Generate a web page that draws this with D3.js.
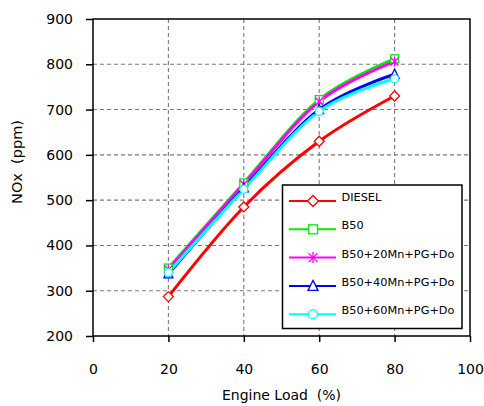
<!DOCTYPE html>
<html>
<head>
<meta charset="utf-8">
<script src="https://cdn.jsdelivr.net/npm/d3@7"></script>
<style>
  html, body { margin: 0; padding: 0; background: #fff; }
  svg { display: block; }
  text { font-family: "DejaVu Sans", Verdana, sans-serif; fill: #000; }
</style>
</head>
<body>
<svg id="chart" width="484" height="406"></svg>
<script>
// Engine load (%) at which NOx was measured
const loads = [20, 40, 60, 80];

// NOx emissions (ppm) per fuel blend
const dieselNOx = [287, 485, 630, 730];
const b50NOx = [350, 538, 722, 812];
const b50Mn20NOx = [347, 535, 718, 806];
const b50Mn40NOx = [337, 527, 700, 778];
const b50Mn60NOx = [340, 524, 696, 768];

const seriesNames = ["DIESEL", "B50", "B50+20Mn+PG+Do", "B50+40Mn+PG+Do", "B50+60Mn+PG+Do"];
const seriesValues = [dieselNOx, b50NOx, b50Mn20NOx, b50Mn40NOx, b50Mn60NOx];
const seriesColors = ["#ff0000", "#00ee00", "#ff00ff", "#0000ff", "#00ffff"];
const seriesMarkers = ["diamond", "square", "asterisk", "triangle", "circle"];

const xTicks = [0, 20, 40, 60, 80, 100];
const yTicks = [200, 300, 400, 500, 600, 700, 800, 900];

const svg = d3.select("#chart");
const plotLeft = 93, plotRight = 470, plotTop = 19, plotBottom = 336;

const x = d3.scaleLinear().domain([0, 100]).range([plotLeft, plotRight]);
const y = d3.scaleLinear().domain([200, 900]).range([plotBottom, plotTop]);

// dashed grid
const grid = svg.append("g").attr("stroke", "#7a7a7a").attr("stroke-width", 1.1)
  .attr("stroke-dasharray", "4,3");
grid.selectAll("line.v").data(xTicks.slice(1, -1)).join("line").attr("class", "v")
  .attr("x1", d => x(d)).attr("x2", d => x(d)).attr("y1", plotTop).attr("y2", plotBottom);
grid.selectAll("line.h").data(yTicks.slice(1, -1)).join("line").attr("class", "h")
  .attr("x1", plotLeft).attr("x2", plotRight).attr("y1", d => y(d)).attr("y2", d => y(d));

// axes
const xAxis = d3.axisBottom(x).tickValues(xTicks).tickSize(6).tickPadding(22);
const yAxis = d3.axisLeft(y).tickValues(yTicks).tickSize(7).tickPadding(13);

const gx = svg.append("g").attr("transform", `translate(0,${plotBottom})`).call(xAxis);
const gy = svg.append("g").attr("transform", `translate(${plotLeft},0)`).call(yAxis);
[gx, gy].forEach(g => {
  g.select(".domain").remove();
  g.selectAll(".tick line").attr("stroke", "#000").attr("stroke-width", 1.5);
  g.selectAll(".tick text").attr("font-size", 14).attr("font-family", "DejaVu Sans").attr("fill", "#000");
});

// plot frame
svg.append("rect").attr("x", plotLeft).attr("y", plotTop)
  .attr("width", plotRight - plotLeft).attr("height", plotBottom - plotTop)
  .attr("fill", "none").attr("stroke", "#000").attr("stroke-width", 1.5);

// axis titles
svg.append("text").attr("x", (plotLeft + plotRight) / 2).attr("y", 400)
  .attr("text-anchor", "middle").attr("font-size", 14)
  .text("Engine Load\u00a0\u00a0(%)");
svg.append("text")
  .attr("transform", "translate(22,162) rotate(-90)")
  .attr("text-anchor", "middle").attr("font-size", 14.5)
  .text("NOx\u00a0\u00a0(ppm)");

// marker shapes
function drawMarker(g, type, cx, cy, color, s) {
  const h = s / 2;
  if (type === "diamond") {
    g.append("path").attr("d", `M${cx},${cy - h - 1}L${cx + h + 1},${cy}L${cx},${cy + h + 1}L${cx - h - 1},${cy}Z`)
      .attr("fill", "#fff").attr("stroke", color).attr("stroke-width", 1.3);
  } else if (type === "square") {
    g.append("rect").attr("x", cx - h).attr("y", cy - h).attr("width", s).attr("height", s)
      .attr("fill", "#fff").attr("stroke", color).attr("stroke-width", 1.3);
  } else if (type === "triangle") {
    g.append("path").attr("d", `M${cx},${cy - h - 1}L${cx + h + 0.5},${cy + h}L${cx - h - 0.5},${cy + h}Z`)
      .attr("fill", "#fff").attr("stroke", color).attr("stroke-width", 1.3);
  } else if (type === "circle") {
    g.append("circle").attr("cx", cx).attr("cy", cy).attr("r", h)
      .attr("fill", "#fff").attr("stroke", color).attr("stroke-width", 1.3);
  } else if (type === "asterisk") {
    const a = g.append("g").attr("stroke", color).attr("stroke-width", 1.3);
    a.append("line").attr("x1", cx).attr("x2", cx).attr("y1", cy - h - 1).attr("y2", cy + h + 1);
    a.append("line").attr("x1", cx - h).attr("x2", cx + h).attr("y1", cy - h).attr("y2", cy + h);
    a.append("line").attr("x1", cx - h).attr("x2", cx + h).attr("y1", cy + h).attr("y2", cy - h);
  }
}

// series lines (smoothed) and markers
const line = d3.line().x(d => x(d[0])).y(d => y(d[1])).curve(d3.curveCatmullRom.alpha(0));
const plot = svg.append("g");
seriesValues.forEach((vals, i) => {
  const pts = loads.map((l, j) => [l, vals[j]]);
  plot.append("path").datum(pts).attr("d", line)
    .attr("fill", "none").attr("stroke", seriesColors[i]).attr("stroke-width", 3)
    .attr("stroke-linejoin", "round");
});
seriesValues.forEach((vals, i) => {
  loads.forEach((l, j) => drawMarker(plot, seriesMarkers[i], x(l), y(vals[j]), seriesColors[i], 8));
});

// legend
const legend = svg.append("g");
legend.append("rect").attr("x", 282.5).attr("y", 185).attr("width", 179.5).attr("height", 143.5)
  .attr("fill", "#fff").attr("stroke", "#000").attr("stroke-width", 1.5);
seriesNames.forEach((name, i) => {
  const ly = 201 + i * 28.3;
  legend.append("line").attr("x1", 289).attr("x2", 336).attr("y1", ly).attr("y2", ly)
    .attr("stroke", seriesColors[i]).attr("stroke-width", 2);
  drawMarker(legend, seriesMarkers[i], 313, ly, seriesColors[i], 9);
  legend.append("text").attr("x", 341.5).attr("y", ly).attr("font-size", 11.3).text(name);
});
</script>
</body>
</html>
